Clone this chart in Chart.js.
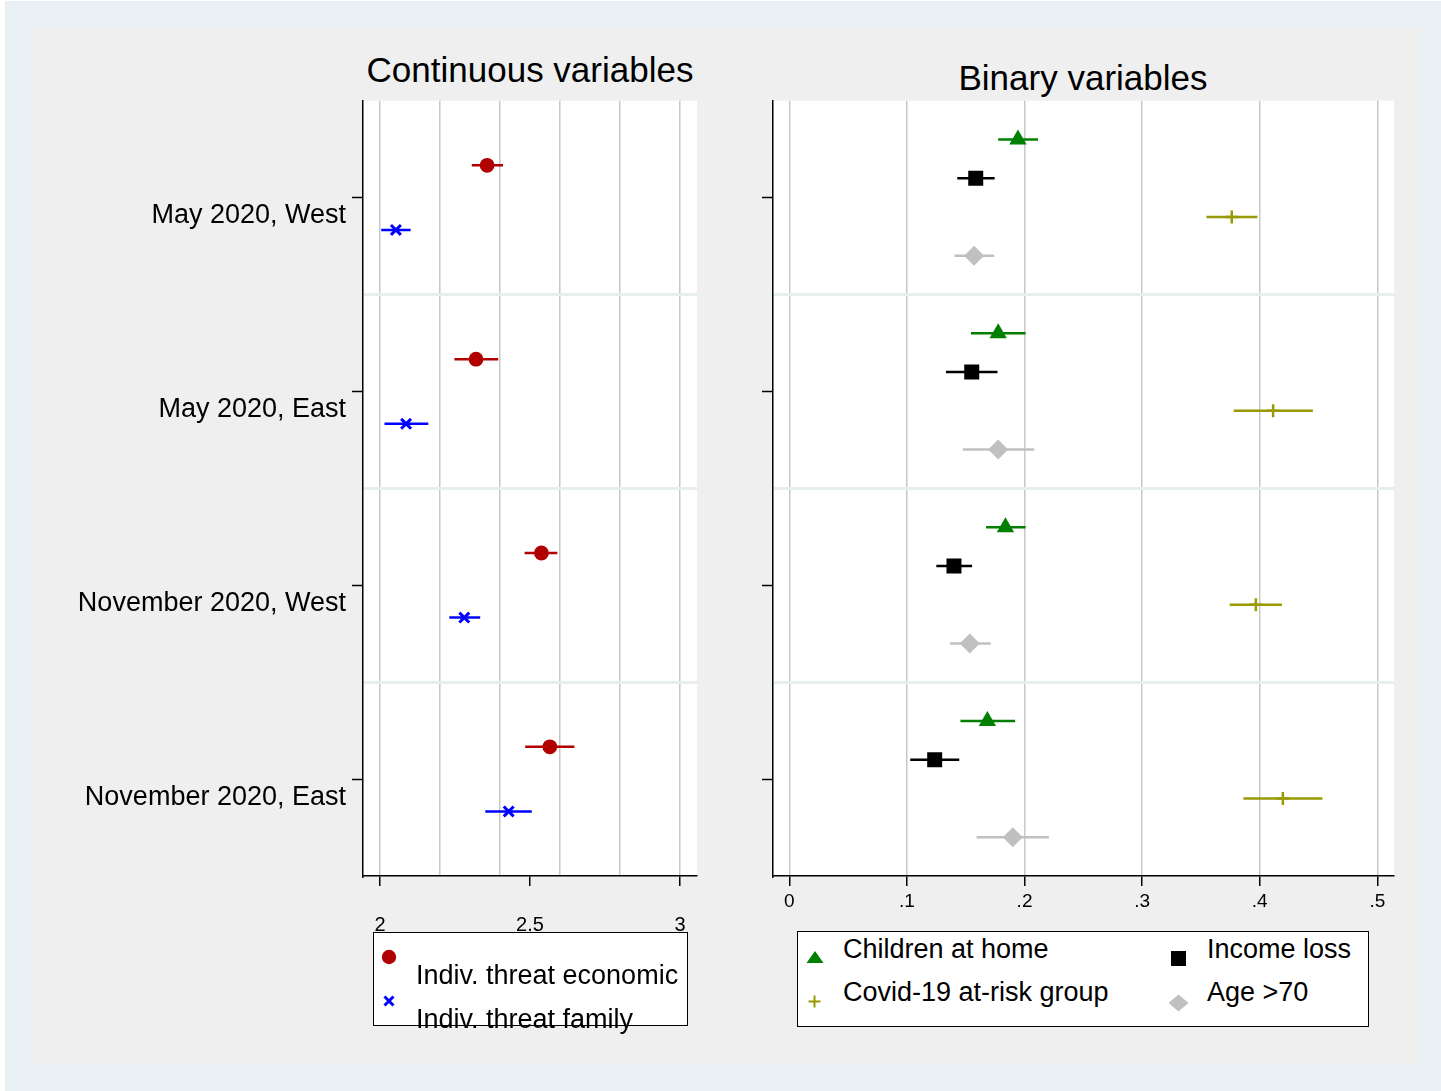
<!DOCTYPE html>
<html>
<head>
<meta charset="utf-8">
<script src="https://cdn.jsdelivr.net/npm/chart.js@4.4.0/dist/chart.umd.min.js"></script>
<style>
  body { margin: 0; background: #fff; font-family: "Liberation Sans", Arial, sans-serif; }
  #outer { position: absolute; left: 5px; top: 1px; width: 1436px; height: 1090px; background: #e8f0f3; }
  #inner { position: absolute; left: 30px; top: 27px; width: 1390px; height: 1037px; background: #efefef; }
  canvas { position: absolute; }
  .title { position: absolute; font-size: 35px; line-height: 35px; white-space: nowrap; transform: translateX(-50%); color: #000; }
  .legend { position: absolute; background: #fff; border: 1.5px solid #000; box-sizing: border-box; }
  .lt { position: absolute; font-size: 27px; line-height: 27px; white-space: nowrap; color: #000; }
  svg.mk { position: absolute; left: 0; top: 0; overflow: visible; }
</style>
</head>
<body>
<div id="outer"></div>
<div id="inner"></div>

<div class="title" style="left:530px;top:52px">Continuous variables</div>
<div class="title" style="left:1083px;top:60px">Binary variables</div>

<canvas id="contChart" width="680" height="872" style="left:40px;top:88px"></canvas>
<canvas id="binChart" width="680" height="872" style="left:740px;top:88px"></canvas>

<div class="legend" style="left:373px;top:932px;width:315px;height:94px"></div>
<div class="lt" style="left:416px;top:962px">Indiv. threat economic</div>
<div class="lt" style="left:416px;top:1006px">Indiv. threat family</div>

<div class="legend" style="left:797px;top:931px;width:572px;height:96px"></div>
<div class="lt" style="left:843px;top:936px">Children at home</div>
<div class="lt" style="left:1207px;top:936px">Income loss</div>
<div class="lt" style="left:843px;top:979px">Covid-19 at-risk group</div>
<div class="lt" style="left:1207px;top:979px">Age &gt;70</div>

<svg class="mk" width="1441" height="1091">
  <circle cx="389" cy="957" r="7.2" fill="#b00000"/>
  <path d="M384.5 996.5 L393.5 1005.5 M393.5 996.5 L384.5 1005.5" stroke="#0000ff" stroke-width="3"/>
  <polygon points="815,951 806.5,963 823.5,963" fill="#007f00"/>
  <rect x="1171" y="951" width="15" height="15" fill="#000"/>
  <path d="M814.5 995.5 L814.5 1007.5 M808.5 1001.5 L820.5 1001.5" stroke="#999900" stroke-width="2"/>
  <polygon points="1178.5,994.5 1188.5,1003 1178.5,1011.5 1168.5,1003" fill="#c0c0c0"/>
</svg>

<script>
// survey waves (rows of both panels)
const waves = ['May 2020, West', 'May 2020, East', 'November 2020, West', 'November 2020, East'];

// continuous variables: estimate, lower and upper CI
const econEst = [2.357, 2.320, 2.538, 2.566];
const econLo  = [2.306, 2.248, 2.482, 2.484];
const econHi  = [2.410, 2.394, 2.591, 2.648];
const famEst  = [2.053, 2.087, 2.281, 2.429];
const famLo   = [2.004, 2.015, 2.231, 2.351];
const famHi   = [2.102, 2.161, 2.334, 2.506];

// binary variables
const childEst  = [0.1944, 0.1776, 0.1838, 0.1684];
const childLo   = [0.1776, 0.1544, 0.1673, 0.1455];
const childHi   = [0.2115, 0.2009, 0.2009, 0.1920];
const incomeEst = [0.1585, 0.1551, 0.1400, 0.1236];
const incomeLo  = [0.1428, 0.1332, 0.1250, 0.1028];
const incomeHi  = [0.1746, 0.1770, 0.1554, 0.1445];
const covidEst  = [0.3762, 0.4114, 0.3967, 0.4197];
const covidLo   = [0.3547, 0.3779, 0.3745, 0.3861];
const covidHi   = [0.3980, 0.4452, 0.4189, 0.4534];
const ageEst    = [0.1571, 0.1776, 0.1534, 0.1900];
const ageLo     = [0.1404, 0.1475, 0.1367, 0.1592];
const ageHi     = [0.1742, 0.2083, 0.1712, 0.2207];

// axis ticks
const contTicks = [2, 2.5, 3];
const contTickLabels = ['2', '2.5', '3'];
const contGrid = [2, 2.2, 2.4, 2.6, 2.8, 3];
const binTicks = [0, 0.1, 0.2, 0.3, 0.4, 0.5];
const binTickLabels = ['0', '.1', '.2', '.3', '.4', '.5'];

Chart.defaults.font.family = "'Liberation Sans', Arial, sans-serif";
Chart.defaults.color = '#000';

const same = (a, b) => Math.abs(a - b) < 1e-6;
const inList = (v, list) => list.some(t => same(t, v));
const CLEAR = 'rgba(0,0,0,0)';

const plotBg = {
  id: 'plotBg',
  beforeDraw(chart) {
    const { ctx, chartArea: a } = chart;
    ctx.save();
    ctx.fillStyle = '#fff';
    ctx.fillRect(a.left, a.top, a.right - a.left, a.bottom - a.top);
    ctx.restore();
  }
};

function series(est, lo, hi, offset, color, mark) {
  const pts = {
    data: est.map((v, i) => ({ x: v, y: i + 1 + offset })),
    pointStyle: mark.style,
    pointRadius: mark.r,
    backgroundColor: color,
    borderColor: color,
    borderWidth: mark.bw,
    showLine: false,
    order: 0
  };
  const bars = lo.map((l, i) => ({
    data: [{ x: l, y: i + 1 + offset }, { x: hi[i], y: i + 1 + offset }],
    showLine: true,
    borderColor: color,
    borderWidth: 2.5,
    pointRadius: 0,
    order: 1
  }));
  return [pts, ...bars];
}

function yAxis(width, labels) {
  const rows = [1, 1.5, 2, 2.5, 3, 3.5, 4];
  return {
    type: 'linear', min: 0.5, max: 4.5, reverse: true,
    afterBuildTicks: s => { s.ticks = rows.map(v => ({ value: v })); },
    afterFit: s => { s.width = width; },
    grid: {
      color: c => (c.tick && c.tick.value % 1) ? '#e6eef0' : CLEAR,
      lineWidth: 3,
      tickColor: c => (c.tick && c.tick.value % 1) ? CLEAR : '#000',
      tickWidth: 1.5,
      tickLength: 11
    },
    border: { color: '#000', width: 1.5 },
    ticks: {
      autoSkip: false,
      padding: 6,
      labelOffset: 18,
      font: { size: 27, lineHeight: 0.5 },
      color: '#000',
      callback: v => (labels && Number.isInteger(v)) ? labels[v - 1] : ''
    }
  };
}

function xAxis(min, max, grid, ticks, tickLabels, fontSize, pad) {
  const all = [...new Set([...grid, ...ticks])].sort((a, b) => a - b);
  return {
    type: 'linear', min, max,
    afterBuildTicks: s => { s.ticks = all.map(v => ({ value: v })); },
    afterFit: s => { s.height = 84; },
    grid: {
      color: c => (c.tick && inList(c.tick.value, grid)) ? '#c8c8c8' : CLEAR,
      lineWidth: 1.5,
      tickColor: c => (c.tick && inList(c.tick.value, ticks)) ? '#000' : CLEAR,
      tickWidth: 1.5,
      tickLength: 10
    },
    border: { color: '#000', width: 1.5 },
    ticks: {
      autoSkip: false,
      maxRotation: 0,
      padding: pad,
      font: { size: fontSize },
      color: '#000',
      callback: v => {
        const k = ticks.findIndex(t => same(t, v));
        return k >= 0 ? tickLabels[k] : '';
      }
    }
  };
}

function baseOptions(scales, right) {
  return {
    responsive: false,
    animation: false,
    devicePixelRatio: 1,
    layout: { padding: { top: 0, right: right, bottom: 0, left: 0 } },
    plugins: { legend: { display: false }, tooltip: { enabled: false } },
    scales
  };
}

const off = 1 / 6;
new Chart(document.getElementById('contChart'), {
  type: 'scatter',
  data: {
    datasets: [
      ...series(econEst, econLo, econHi, -off, '#b00000', { style: 'circle', r: 7.4, bw: 0 }),
      ...series(famEst, famLo, famHi, off, '#0000ff', { style: 'crossRot', r: 7, bw: 3 })
    ]
  },
  options: baseOptions({
    x: xAxis(1.9433, 3.0567, contGrid, contTicks, contTickLabels, 20, 27),
    y: yAxis(323, waves)
  }, 23),
  plugins: [plotBg]
});

new Chart(document.getElementById('binChart'), {
  type: 'scatter',
  data: {
    datasets: [
      ...series(childEst, childLo, childHi, -0.3, '#007f00', { style: 'triangle', r: 10, bw: 0 }),
      ...series(incomeEst, incomeLo, incomeHi, -0.1, '#000000', { style: 'rect', r: 10.6, bw: 0 }),
      ...series(covidEst, covidLo, covidHi, 0.1, '#999900', { style: 'cross', r: 6.5, bw: 2.5 }),
      ...series(ageEst, ageLo, ageHi, 0.3, '#c0c0c0', { style: 'rectRot', r: 10, bw: 0 })
    ]
  },
  options: baseOptions({
    x: xAxis(-0.0139, 0.5142, binTicks, binTicks, binTickLabels, 19, 4),
    y: yAxis(33, null)
  }, 26),
  plugins: [plotBg]
});
</script>
</body>
</html>
